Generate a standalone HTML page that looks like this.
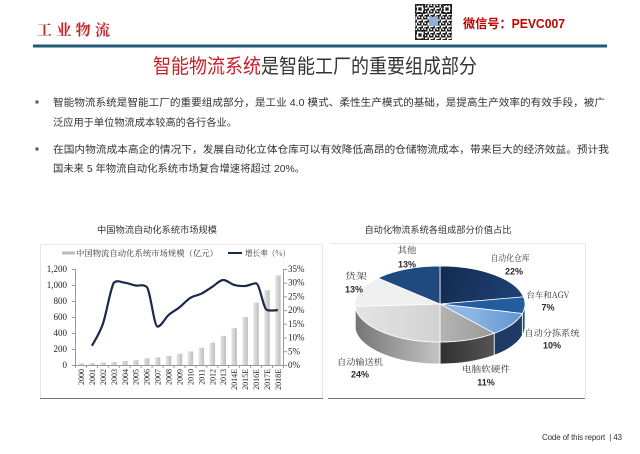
<!DOCTYPE html>
<html><head><meta charset="utf-8"><style>
html,body{margin:0;padding:0;background:#fff;width:640px;height:454px;overflow:hidden}
svg{display:block}
.cjk{font-family:"Liberation Sans","Noto Sans CJK SC",sans-serif}
.ser{font-family:"Liberation Serif","Noto Serif CJK SC",serif}
</style></head><body>
<svg width="640" height="454" viewBox="0 0 640 454" xmlns="http://www.w3.org/2000/svg">
<defs>
<pattern id="qr" width="6" height="6" patternUnits="userSpaceOnUse">
<rect x="0" y="0" width="1.5" height="1.5" fill="#222"/><rect x="3" y="0" width="3" height="1.5" fill="#222"/>
<rect x="1.5" y="1.5" width="1.5" height="1.5" fill="#222"/><rect x="4.5" y="3" width="1.5" height="1.5" fill="#222"/>
<rect x="0" y="3" width="3" height="1.5" fill="#222"/><rect x="3" y="4.5" width="1.5" height="1.5" fill="#222"/>
<rect x="0" y="4.5" width="1.5" height="1.5" fill="#222"/>
</pattern>
<linearGradient id="bar" x1="0" x2="1" y1="0" y2="0"><stop offset="0" stop-color="#e6e6e6"/><stop offset="1" stop-color="#bdbdbd"/></linearGradient>
<linearGradient id="wConv" gradientUnits="userSpaceOnUse" x1="355" y1="0" x2="440" y2="0"><stop offset="0" stop-color="#757575"/><stop offset="1" stop-color="#c4c4c4"/></linearGradient>
<linearGradient id="wPc" gradientUnits="userSpaceOnUse" x1="440" y1="0" x2="494" y2="0"><stop offset="0" stop-color="#303030"/><stop offset="1" stop-color="#555"/></linearGradient>
<linearGradient id="tSort" gradientUnits="userSpaceOnUse" x1="470" y1="0" x2="525" y2="0"><stop offset="0" stop-color="#8db6e6"/><stop offset="1" stop-color="#5f92cf"/></linearGradient>
<linearGradient id="tWh" gradientUnits="userSpaceOnUse" x1="440" y1="266" x2="520" y2="300"><stop offset="0" stop-color="#132a4f"/><stop offset="1" stop-color="#1f4276"/></linearGradient>
<linearGradient id="tConv" gradientUnits="userSpaceOnUse" x1="355" y1="0" x2="440" y2="0"><stop offset="0" stop-color="#e4e4e4"/><stop offset="1" stop-color="#d2d2d2"/></linearGradient>
<linearGradient id="tPc" gradientUnits="userSpaceOnUse" x1="440" y1="0" x2="494" y2="0"><stop offset="0" stop-color="#b4b4b4"/><stop offset="1" stop-color="#9a9a9a"/></linearGradient>
</defs>

<!-- Header -->
<text x="37" y="35" font-size="15" font-weight="bold" fill="#c0272d" textLength="73" lengthAdjust="spacing" style="font-family:'Noto Serif CJK SC',serif">工业物流</text>
<rect x="415" y="4" width="37" height="36" fill="#fff"/>
<rect x="415" y="4" width="37" height="36" fill="url(#qr)"/>
<g fill="none" stroke="#222" stroke-width="1.4">
<rect x="415.7" y="4.7" width="8.6" height="8.6"/><rect x="442.7" y="4.7" width="8.6" height="8.6"/><rect x="415.7" y="30.7" width="8.6" height="8.6"/>
</g>
<g fill="#fff"><rect x="417" y="6" width="6" height="6"/><rect x="444" y="6" width="6" height="6"/><rect x="417" y="32" width="6" height="6"/></g>
<g fill="#222"><rect x="418.3" y="7.3" width="3.4" height="3.4"/><rect x="445.3" y="7.3" width="3.4" height="3.4"/><rect x="418.3" y="33.3" width="3.4" height="3.4"/></g>
<rect x="429" y="17" width="9" height="9" fill="#8fb0d3"/>
<text x="463" y="28" font-size="12.5" font-weight="bold" fill="#c00000" textLength="102" lengthAdjust="spacingAndGlyphs" class="cjk">微信号：PEVC007</text>
<rect x="33" y="44.5" width="574" height="3" fill="#1f5878"/>

<!-- Title -->
<text x="153" y="73" font-size="20" class="cjk" textLength="324" lengthAdjust="spacingAndGlyphs"><tspan fill="#c8202a">智能物流系统</tspan><tspan fill="#333">是智能工厂的重要组成部分</tspan></text>

<!-- Bullets -->
<rect x="35.5" y="100.5" width="3" height="3" fill="#555"/>
<rect x="35.5" y="147.5" width="3" height="3" fill="#555"/>
<g class="cjk" font-size="10.3" fill="#333">
<text x="53" y="106" textLength="552" lengthAdjust="spacingAndGlyphs">智能物流系统是智能工厂的重要组成部分，是工业 4.0 模式、柔性生产模式的基础，是提高生产效率的有效手段，被广</text>
<text x="53" y="126" textLength="184" lengthAdjust="spacingAndGlyphs">泛应用于单位物流成本较高的各行各业。</text>
<text x="53" y="153" textLength="556" lengthAdjust="spacingAndGlyphs">在国内物流成本高企的情况下，发展自动化立体仓库可以有效降低高昂的仓储物流成本，带来巨大的经济效益。预计我</text>
<text x="53" y="172" textLength="252" lengthAdjust="spacingAndGlyphs">国未来 5 年物流自动化系统市场复合增速将超过 20%。</text>
</g>

<!-- Left chart -->
<text x="157" y="233" font-size="9.3" fill="#333" class="cjk" text-anchor="middle" textLength="120" lengthAdjust="spacingAndGlyphs">中国物流自动化系统市场规模</text>
<g fill="none" stroke="#e6e6e6" stroke-width="1">
<path d="M40.5,244.5 H322.5 V398"/>
<path d="M40.5,244.5 V398"/>
</g>
<line x1="62" y1="253" x2="75" y2="253" stroke="#bbb" stroke-width="3"/>
<text x="76" y="256" font-size="8" fill="#333" textLength="142" lengthAdjust="spacingAndGlyphs" style="font-family:'Noto Serif CJK SC',serif">中国物流自动化系统市场规模（亿元）</text>
<line x1="228" y1="253" x2="242" y2="253" stroke="#1c2a4a" stroke-width="2"/>
<text x="245" y="256" font-size="8" fill="#333" textLength="45" lengthAdjust="spacingAndGlyphs" style="font-family:'Noto Serif CJK SC',serif">增长率（%）</text>

<g class="ser" font-size="9" fill="#222" text-anchor="end">
<text x="67" y="272">1,200</text><text x="67" y="288">1,000</text><text x="67" y="304">800</text>
<text x="67" y="320">600</text><text x="67" y="336">400</text><text x="67" y="352">200</text><text x="67" y="368">0</text>
</g>
<g class="ser" font-size="9" fill="#222">
<text x="288" y="272">35%</text><text x="288" y="285.7">30%</text><text x="288" y="299.4">25%</text>
<text x="288" y="313.1">20%</text><text x="288" y="326.9">15%</text><text x="288" y="340.6">10%</text>
<text x="288" y="354.3">5%</text><text x="288" y="368">0%</text>
</g>
<g stroke="#999" stroke-width="1" fill="none">
<line x1="75.5" y1="269" x2="75.5" y2="365"/>
<path d="M72,269.5h3.5M72,285.5h3.5M72,301.5h3.5M72,317.5h3.5M72,333.5h3.5M72,349.5h3.5M72,365.5h3.5"/>
<line x1="283.5" y1="269" x2="283.5" y2="365"/>
<path d="M283.5,269.5h3.5M283.5,283.2h3.5M283.5,296.9h3.5M283.5,310.6h3.5M283.5,324.3h3.5M283.5,338h3.5M283.5,351.8h3.5M283.5,365.5h3.5"/>
<line x1="75.5" y1="365.5" x2="283.5" y2="365.5"/>
</g>
<g stroke="#999" stroke-width="1">
<path d="M75.5,365v3M86.4,365v3M97.4,365v3M108.3,365v3M119.3,365v3M130.2,365v3M141.2,365v3M152.1,365v3M163.0,365v3M174.0,365v3M184.9,365v3M195.9,365v3M206.8,365v3M217.8,365v3M228.7,365v3M239.6,365v3M250.6,365v3M261.5,365v3M272.5,365v3M283.4,365v3"/>
</g>
<g fill="url(#bar)">
<rect x="78.25" y="363.4" width="5.5" height="1.6"/>
<rect x="89.19" y="363.24" width="5.5" height="1.76"/>
<rect x="100.13" y="362.6" width="5.5" height="2.4"/>
<rect x="111.07" y="361.96" width="5.5" height="3.04"/>
<rect x="122.01" y="361" width="5.5" height="4"/>
<rect x="132.95" y="360.2" width="5.5" height="4.8"/>
<rect x="143.89" y="358.2" width="5.5" height="6.8"/>
<rect x="154.83" y="357.4" width="5.5" height="7.6"/>
<rect x="165.77" y="355.8" width="5.5" height="9.2"/>
<rect x="176.71" y="353.8" width="5.5" height="11.2"/>
<rect x="187.65" y="351.4" width="5.5" height="13.6"/>
<rect x="198.59" y="347.8" width="5.5" height="17.2"/>
<rect x="209.53" y="342.6" width="5.5" height="22.4"/>
<rect x="220.47" y="335.8" width="5.5" height="29.2"/>
<rect x="231.41" y="328.2" width="5.5" height="36.8"/>
<rect x="242.35" y="317" width="5.5" height="48"/>
<rect x="253.29" y="302.6" width="5.5" height="62.4"/>
<rect x="264.23" y="290.2" width="5.5" height="74.8"/>
<rect x="275.17" y="275.4" width="5.5" height="89.6"/>
</g>
<path fill="none" stroke="#1c2a4a" stroke-width="2.2" stroke-linejoin="round" d="M91.94,345.8 C93.76,342.15 99.23,334.42 102.88,323.9 C106.53,313.38 110.17,289.57 113.82,282.7 C117.47,279.7 121.11,282.23 124.76,282.7 C128.41,283.17 132.05,284.82 135.70,285.5 C139.35,286.18 142.99,283.8 146.64,286.8 C150.29,289.8 153.93,326.6 157.58,326.6 C161.23,326.6 164.87,318.3 168.52,315.1 C172.17,311.9 175.81,310.28 179.46,307.4 C183.11,304.52 186.75,300.08 190.40,297.8 C194.05,295.52 197.69,295.53 201.34,293.7 C204.99,291.87 208.63,289.08 212.28,286.8 C215.93,284.52 219.57,280.0 223.22,280.0 C226.87,280.0 230.51,283.9 234.16,284.9 C237.81,285.9 241.45,286.27 245.10,286.0 C248.75,285.73 252.39,283.3 256.04,283.3 C259.69,283.3 263.33,309.1 266.98,310.1 C270.63,311.1 276.1,310.1 277.92,310.1"/>
<g class="ser" font-size="8" fill="#222" text-anchor="end">
<text transform="translate(84,369) rotate(-90)">2000</text>
<text transform="translate(94.9,369) rotate(-90)">2001</text>
<text transform="translate(105.9,369) rotate(-90)">2002</text>
<text transform="translate(116.8,369) rotate(-90)">2003</text>
<text transform="translate(127.8,369) rotate(-90)">2004</text>
<text transform="translate(138.7,369) rotate(-90)">2005</text>
<text transform="translate(149.6,369) rotate(-90)">2006</text>
<text transform="translate(160.6,369) rotate(-90)">2007</text>
<text transform="translate(171.5,369) rotate(-90)">2008</text>
<text transform="translate(182.5,369) rotate(-90)">2009</text>
<text transform="translate(193.4,369) rotate(-90)">2010</text>
<text transform="translate(204.3,369) rotate(-90)">2011</text>
<text transform="translate(215.3,369) rotate(-90)">2012</text>
<text transform="translate(226.2,369) rotate(-90)">2013</text>
<text transform="translate(237.2,369) rotate(-90)">2014E</text>
<text transform="translate(248.1,369) rotate(-90)">2015E</text>
<text transform="translate(259.0,369) rotate(-90)">2016E</text>
<text transform="translate(270.0,369) rotate(-90)">2017E</text>
<text transform="translate(280.9,369) rotate(-90)">2018E</text>
</g>
<line x1="40" y1="398.5" x2="323" y2="398.5" stroke="#777" stroke-width="1"/>
<line x1="328" y1="398.5" x2="585" y2="398.5" stroke="#777" stroke-width="1"/>

<!-- Pie chart -->
<text x="438" y="233" font-size="9.3" fill="#333" class="cjk" text-anchor="middle" textLength="147" lengthAdjust="spacingAndGlyphs">自动化物流系统各组成部分价值占比</text>
<path d="M330,243.5 H585.5 V398" fill="none" stroke="#e6e6e6" stroke-width="1"/>

<g stroke="#fff" stroke-width="0.8" stroke-linejoin="round">
<path d="M525,304 A85,38 0 0 1 522.3,313.5 L522.3,335.5 A85,38 0 0 0 525,326 Z" fill="#1a4b82"/>
<path d="M522.3,313.5 A85,38 0 0 1 494.2,333.3 L494.2,355.3 A85,38 0 0 0 522.3,335.5 Z" fill="#1e3b63"/>
<path d="M494.2,333.3 A85,38 0 0 1 440,342 L440,364 A85,38 0 0 0 494.2,355.3 Z" fill="url(#wPc)"/>
<path d="M440,342 A85,38 0 0 1 355.2,306.4 L355.2,328.4 A85,38 0 0 0 440,364 Z" fill="url(#wConv)"/>
<path d="M355.2,306.4 A85,38 0 0 1 355,304 L355,326 A85,38 0 0 0 355.2,328.4 Z" fill="#9a9a9a"/>
<path d="M440,304 L440,266 A85,38 0 0 1 523.5,296.9 Z" fill="url(#tWh)"/>
<path d="M440,304 L523.5,296.9 A85,38 0 0 1 522.3,313.5 Z" fill="#225d9f"/>
<path d="M440,304 L522.3,313.5 A85,38 0 0 1 494.2,333.3 Z" fill="url(#tSort)"/>
<path d="M440,304 L494.2,333.3 A85,38 0 0 1 440,342 Z" fill="url(#tPc)"/>
<path d="M440,304 L440,342 A85,38 0 0 1 355.2,306.4 Z" fill="url(#tConv)"/>
<path d="M440,304 L355.2,306.4 A85,38 0 0 1 378,278 Z" fill="#efefef"/>
<path d="M440,304 L378,278 A85,38 0 0 1 440,266 Z" fill="#1f4a80"/>
</g>

<g font-size="8.5" fill="#333" style="font-family:'Noto Serif CJK SC',serif" text-anchor="middle">
<text x="407" y="253" textLength="19" lengthAdjust="spacingAndGlyphs">其他</text>
<text x="356" y="279" textLength="22" lengthAdjust="spacingAndGlyphs">货架</text>
<text x="510" y="261" textLength="39" lengthAdjust="spacingAndGlyphs">自动化仓库</text>
<text x="548" y="298" textLength="43" lengthAdjust="spacingAndGlyphs">台车和AGV</text>
<text x="552" y="336" textLength="55" lengthAdjust="spacingAndGlyphs">自动分拣系统</text>
<text x="486" y="372" textLength="48" lengthAdjust="spacingAndGlyphs">电脑软硬件</text>
<text x="360" y="365" textLength="46" lengthAdjust="spacingAndGlyphs">自动输送机</text>
</g>
<g font-size="9" font-weight="bold" fill="#2a2a2a" font-family="Liberation Sans, sans-serif" text-anchor="middle">
<text x="407" y="267.5">13%</text>
<text x="354" y="292.5">13%</text>
<text x="514" y="274.5">22%</text>
<text x="548" y="310.5">7%</text>
<text x="552" y="348.5">10%</text>
<text x="486" y="385.5">11%</text>
<text x="360" y="377.5">24%</text>
</g>

<!-- Footer -->
<text x="542" y="440" font-size="8" fill="#333" font-family="Liberation Sans, sans-serif" textLength="80" lengthAdjust="spacing" xml:space="preserve">Code of this report  | 43</text>
</svg>
</body></html>
